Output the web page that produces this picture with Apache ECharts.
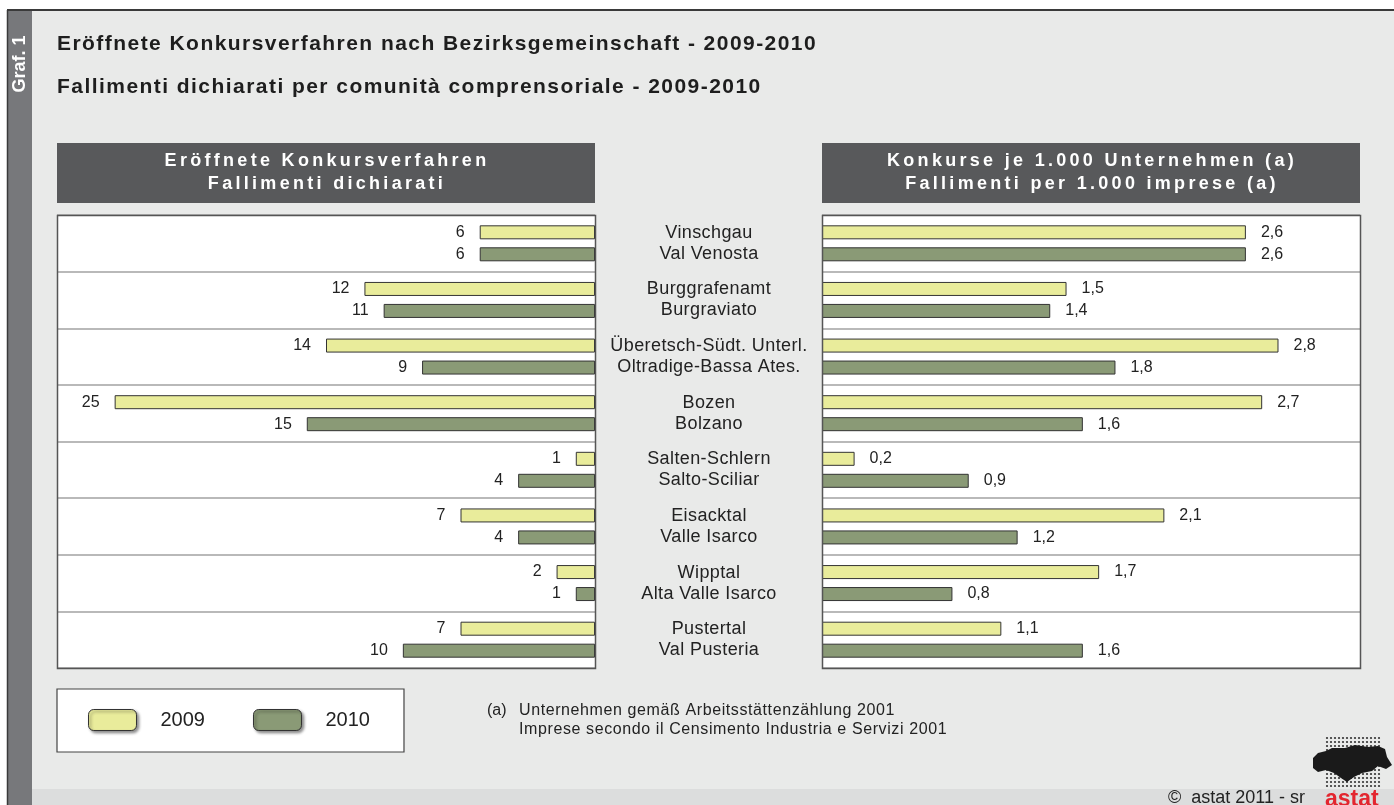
<!DOCTYPE html>
<html>
<head>
<meta charset="utf-8">
<script src="https://cdn.jsdelivr.net/npm/echarts@6/dist/echarts.min.js"></script>
<style>html,body{margin:0;padding:0;background:#fff}#c{width:1394px;height:805px}</style>
</head>
<body>
<div id="c"></div>
<script>
// ---- data ----
const title1 = 'Eröffnete Konkursverfahren nach Bezirksgemeinschaft - 2009-2010';
const title2 = 'Fallimenti dichiarati per comunità comprensoriale - 2009-2010';
const headerLeft = ['Eröffnete Konkursverfahren', 'Fallimenti dichiarati'];
const headerRight = ['Konkurse je 1.000 Unternehmen (a)', 'Fallimenti per 1.000 imprese (a)'];
const regionsDe = ['Vinschgau', 'Burggrafenamt', 'Überetsch-Südt. Unterl.', 'Bozen', 'Salten-Schlern', 'Eisacktal', 'Wipptal', 'Pustertal'];
const regionsIt = ['Val Venosta', 'Burgraviato', 'Oltradige-Bassa Ates.', 'Bolzano', 'Salto-Sciliar', 'Valle Isarco', 'Alta Valle Isarco', 'Val Pusteria'];
const years = ['2009', '2010'];
const count2009 = [6, 12, 14, 25, 1, 7, 2, 7];
const count2010 = [6, 11, 9, 15, 4, 4, 1, 10];
const rate2009 = [2.6, 1.5, 2.8, 2.7, 0.2, 2.1, 1.7, 1.1];
const rate2010 = [2.6, 1.4, 1.8, 1.6, 0.9, 1.2, 0.8, 1.6];
const footnote = ['Unternehmen gemäß Arbeitsstättenzählung 2001', 'Imprese secondo il Censimento Industria e Servizi 2001'];
const sideLabel = 'Graf. 1';
const copyright = '©  astat 2011 - sr';

// ---- letter spacing support (canvas) ----
const SPACING = new Map();
SPACING.set(title1, 1.45); SPACING.set(title2, 1.45);
headerLeft.concat(headerRight).forEach(t => SPACING.set(t, 3.3));
regionsDe.concat(regionsIt).forEach(t => SPACING.set(t, 0.4));
footnote.forEach(t => SPACING.set(t, 0.6));
(function () {
  const proto = CanvasRenderingContext2D.prototype;
  const oFill = proto.fillText, oMeasure = proto.measureText;
  proto.fillText = function (t, x, y, m) {
    const s = SPACING.get(t) || 0;
    const f = this.font;
    this.letterSpacing = s + 'px';
    this.font = f;
    if (m === undefined) oFill.call(this, t, x, y); else oFill.call(this, t, x, y, m);
    this.letterSpacing = '0px';
    this.font = f;
  };
  proto.measureText = function (t) {
    if (this.letterSpacing && this.letterSpacing !== '0px') { const f = this.font; this.letterSpacing = '0px'; this.font = f; }
    const r = oMeasure.call(this, t);
    const s = SPACING.get(t);
    if (!s) return r;
    const extra = s * String(t).length;
    return {
      width: r.width + extra,
      actualBoundingBoxAscent: r.actualBoundingBoxAscent,
      actualBoundingBoxDescent: r.actualBoundingBoxDescent,
      actualBoundingBoxLeft: r.actualBoundingBoxLeft,
      actualBoundingBoxRight: r.actualBoundingBoxRight + extra,
      fontBoundingBoxAscent: r.fontBoundingBoxAscent,
      fontBoundingBoxDescent: r.fontBoundingBoxDescent
    };
  };
})();

// ---- styles ----
const FONT = 'Liberation Sans, Arial, sans-serif';
const C2009 = '#e9ec9b';
const C2010 = '#8a9a76';
const BAR_BORDER = '#333';
const categories = regionsDe.map((d, i) => d + '\n' + regionsIt[i]);

const chart = echarts.init(document.getElementById('c'), null, { renderer: 'canvas' });

const splitLine = { show: true, interval: 0, lineStyle: { color: '#b9b9b9', width: 2 } };
const labelStyle = { show: true, fontFamily: FONT, fontSize: 16, color: '#222', distance: 15 };
const barCommon = { type: 'bar', barWidth: 14, barGap: '57%' };

// decorative graphics
const graphics = [
  { type: 'rect', shape: { x: 7, y: 10, width: 1387, height: 795 }, style: { fill: '#e9eae9' }, z: -10 },
  { type: 'rect', shape: { x: 7, y: 789, width: 1387, height: 16 }, style: { fill: '#dcdddd' }, z: -9 },
  { type: 'rect', shape: { x: 7, y: 10, width: 25, height: 795 }, style: { fill: '#77787b' }, z: -8 },
  { type: 'line', shape: { x1: 7, y1: 10, x2: 1394, y2: 10 }, style: { stroke: '#3a3a3a', lineWidth: 2 }, z: -7 },
  { type: 'line', shape: { x1: 7.5, y1: 10, x2: 7.5, y2: 805 }, style: { stroke: '#3a3a3a', lineWidth: 1.5 }, z: -7 },
  { type: 'text', x: 20, y: 64, rotation: Math.PI / 2,
    style: { text: sideLabel, fill: '#fff', font: 'bold 18px ' + FONT, align: 'center', verticalAlign: 'middle' } },
  { type: 'text', x: 57, y: 44, style: { text: title1, fill: '#1e1e1e', font: 'bold 21px ' + FONT, align: 'left', verticalAlign: 'middle' } },
  { type: 'text', x: 57, y: 87, style: { text: title2, fill: '#1e1e1e', font: 'bold 21px ' + FONT, align: 'left', verticalAlign: 'middle' } },
  { type: 'rect', shape: { x: 57, y: 143, width: 538, height: 60 }, style: { fill: '#58595b' } },
  { type: 'rect', shape: { x: 822, y: 143, width: 538, height: 60 }, style: { fill: '#58595b' } },
  { type: 'text', x: 327, y: 173, style: { text: headerLeft.join('\n'), fill: '#fff', font: 'bold 18px ' + FONT, align: 'center', verticalAlign: 'middle', lineHeight: 23 } },
  { type: 'text', x: 1092, y: 173, style: { text: headerRight.join('\n'), fill: '#fff', font: 'bold 18px ' + FONT, align: 'center', verticalAlign: 'middle', lineHeight: 23 } },
  { type: 'rect', shape: { x: 57.5, y: 215.5, width: 538, height: 453 }, style: { fill: 'none', stroke: '#555', lineWidth: 1.5 }, z: 100 },
  { type: 'rect', shape: { x: 822.5, y: 215.5, width: 538, height: 453 }, style: { fill: 'none', stroke: '#555', lineWidth: 1.5 }, z: 100 },
  { type: 'text', x: 487, y: 711, style: { text: '(a)', fill: '#222', font: '16px ' + FONT, align: 'left', verticalAlign: 'middle' } },
  { type: 'text', x: 519, y: 701, style: { text: footnote.join('\n'), fill: '#222', font: '16px ' + FONT, align: 'left', verticalAlign: 'top', lineHeight: 19 } },
  { type: 'text', x: 1168, y: 798, style: { text: copyright, fill: '#222', font: '18px ' + FONT, align: 'left', verticalAlign: 'middle' } },
  { type: 'text', x: 1325, y: 788, style: { text: 'astat', fill: '#e3262f', font: 'bold 23px ' + FONT, align: 'left', verticalAlign: 'top' }, z: 5 }
];
// astat logo (decorative dot map)
const logoDots = [];
for (let x = 1327; x <= 1379; x += 4) {
  for (let y = 738; y <= 786; y += 4) {
    logoDots.push({ type: 'circle', shape: { cx: x, cy: y, r: 1.1 }, style: { fill: '#333' }, silent: true });
  }
}
graphics.push({ type: 'group', children: logoDots });
graphics.push({ type: 'polygon', shape: { points: [
  [1313, 758], [1318, 753], [1326, 751], [1332, 748], [1345, 748], [1355, 745], [1368, 747], [1378, 746],
  [1385, 749], [1387, 757], [1392, 765], [1386, 769], [1378, 766], [1372, 771], [1362, 773], [1354, 777],
  [1347, 782], [1341, 778], [1334, 773], [1326, 770], [1318, 772], [1313, 768]
] }, style: { fill: '#1a1a1a' } });

const option = {
  animation: false,
  backgroundColor: '#fff',
  textStyle: { fontFamily: FONT },
  graphic: graphics,
  legend: {
    data: years,
    left: 57, top: 689,
    orient: 'horizontal',
    icon: 'roundRect',
    itemWidth: 48, itemHeight: 21, itemGap: 48,
    padding: [20, 34, 21, 31],
    backgroundColor: '#fff', borderColor: '#444', borderWidth: 1.2,
    selectedMode: false,
    itemStyle: { borderColor: '#333', borderWidth: 1, shadowBlur: 3, shadowColor: 'rgba(0,0,0,0.45)', shadowOffsetX: 2, shadowOffsetY: 2 },
    textStyle: { fontFamily: FONT, fontSize: 20, color: '#222', lineHeight: 21, padding: [0, 0, 0, 19] }
  },
  grid: [
    { left: 57, top: 215, width: 538, height: 453, show: true, backgroundColor: '#fff', borderWidth: 0 },
    { left: 822, top: 215, width: 538, height: 453, show: true, backgroundColor: '#fff', borderWidth: 0 }
  ],
  xAxis: [
    { gridIndex: 0, type: 'value', min: 0, max: 28, inverse: true, show: false },
    { gridIndex: 1, type: 'value', min: 0, max: 3.3, show: false }
  ],
  yAxis: [
    { gridIndex: 0, type: 'category', data: categories, inverse: true, position: 'right',
      axisLine: { show: false }, axisTick: { show: false }, splitLine: splitLine,
      axisLabel: { show: true, interval: 0, margin: 114, align: 'center', fontFamily: FONT, fontSize: 18, lineHeight: 21, color: '#222', padding: [2, 0, 0, 0] } },
    { gridIndex: 1, type: 'category', data: categories, inverse: true,
      axisLine: { show: false }, axisTick: { show: false }, splitLine: splitLine, axisLabel: { show: false } }
  ],
  series: [
    Object.assign({}, barCommon, { name: years[0], xAxisIndex: 0, yAxisIndex: 0, data: count2009,
      itemStyle: { color: C2009, borderColor: BAR_BORDER, borderWidth: 1 },
      label: Object.assign({}, labelStyle, { position: 'left' }) }),
    Object.assign({}, barCommon, { name: years[1], xAxisIndex: 0, yAxisIndex: 0, data: count2010,
      itemStyle: { color: C2010, borderColor: BAR_BORDER, borderWidth: 1 },
      label: Object.assign({}, labelStyle, { position: 'left' }) }),
    Object.assign({}, barCommon, { name: years[0], xAxisIndex: 1, yAxisIndex: 1, data: rate2009,
      itemStyle: { color: C2009, borderColor: BAR_BORDER, borderWidth: 1 },
      label: Object.assign({}, labelStyle, { position: 'right', formatter: p => p.value.toFixed(1).replace('.', ',') }) }),
    Object.assign({}, barCommon, { name: years[1], xAxisIndex: 1, yAxisIndex: 1, data: rate2010,
      itemStyle: { color: C2010, borderColor: BAR_BORDER, borderWidth: 1 },
      label: Object.assign({}, labelStyle, { position: 'right', formatter: p => p.value.toFixed(1).replace('.', ',') }) })
  ]
};
chart.setOption(option);
</script>
</body>
</html>
